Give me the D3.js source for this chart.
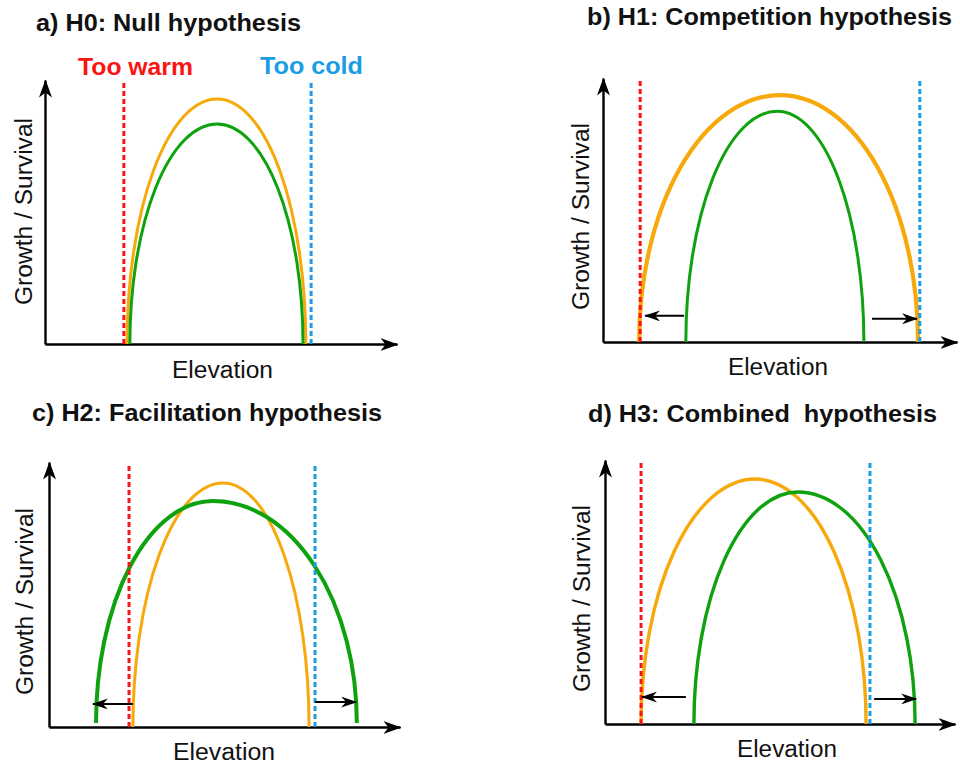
<!DOCTYPE html>
<html>
<head>
<meta charset="utf-8">
<script src="https://cdn.jsdelivr.net/npm/d3@7/dist/d3.min.js"></script>
<style>
  html, body { margin: 0; padding: 0; background: #fff; }
  svg { display: block; }
  text { font-family: "Liberation Sans", Arial, sans-serif; white-space: pre; }
</style>
</head>
<body>
<svg id="chart" width="960" height="764"></svg>
<script>
// ---------------- DATA (elevation & growth in 0–100 units of each panel's axes) ----------------
const panelIds = ["a", "b", "c", "d"];
const panelTitles = [
  "a) H0: Null hypothesis",
  "b) H1: Competition hypothesis",
  "c) H2: Facilitation hypothesis",
  "d) H3: Combined  hypothesis"
];
const xAxisLabel = "Elevation";
const yAxisLabel = "Growth / Survival";
const limitLabels = ["Too warm", "Too cold"];

// warm (low elevation) and cold (high elevation) limits per panel
const warmLimit = [22.4, 10.5, 22.8, 10.3];
const coldLimit = [75.6, 89.5, 75.8, 75.7];
const limitTop = [98.9, 99.0, 98.9, 99.2];

// orange curve: start, peak position, end, peak height
const orangeStart = [23.3, 10.2, 23.9, 10.3];
const orangePeakX = [48.9, 50.0, 49.6, 42.9];
const orangeEnd = [74.1, 89.0, 74.1, 74.6];
const orangePeakY = [92.8, 93.5, 92.1, 92.8];

// green curve: start, peak position, end, peak height, base
const greenStart = [24.1, 23.4, 13.4, 25.4];
const greenPeakX = [48.9, 49.2, 46.7, 55.1];
const greenEnd = [73.3, 73.7, 87.7, 88.6];
const greenPeakY = [83.3, 87.4, 85.3, 87.9];
const greenBase = [0, 0, 1.5, 0];

// shift arrows: from, to, height  (null = no arrows)
const leftArrowFrom = [null, 22.9, 23.9, 23.1];
const leftArrowTo = [null, 11.9, 12.5, 10.6];
const leftArrowY = [null, 9.9, 8.7, 10.2];
const rightArrowFrom = [null, 76.0, 75.8, 76.9];
const rightArrowTo = [null, 88.7, 87.5, 88.9];
const rightArrowY = [null, 8.8, 9.4, 9.5];

// ---------------- LAYOUT ----------------
const layout = {
  a: { ox: 45, oy: 344, tipX: 397, tipY: 80, title: [36, 31, 265], elev: [172, 378, 101], ylab: [32, 305, 187], ow: 3, gw: 3 },
  b: { ox: 603, oy: 342, tipX: 957, tipY: 78, title: [587, 25, 365], elev: [728, 375, 100], ylab: [589, 310, 187], ow: 4.2, gw: 3 },
  c: { ox: 49, oy: 727, tipX: 400, tipY: 462, title: [32, 421, 350], elev: [173, 760, 102], ylab: [33, 695, 187], ow: 3, gw: 4 },
  d: { ox: 605, oy: 724, tipX: 955, tipY: 460, title: [588, 422, 349], elev: [737, 757, 100], ylab: [590, 692, 187], ow: 3.4, gw: 3.4 }
};
const colors = { orange: "#f7a90c", green: "#0ea20e", red: "#fb1414", blue: "#1a9ce6", black: "#000" };
const fontTitle = 23, fontLabel = 23;

const svg = d3.select("#chart");
const defs = svg.append("defs");
defs.append("marker").attr("id", "axisHead")
  .attr("viewBox", "0 -6.5 18 13").attr("refX", 17).attr("refY", 0)
  .attr("markerWidth", 18).attr("markerHeight", 13)
  .attr("markerUnits", "userSpaceOnUse").attr("orient", "auto")
  .append("path").attr("d", "M0,-6.5L18,0L0,6.5L5,0Z").attr("fill", colors.black);
defs.append("marker").attr("id", "smallHead")
  .attr("viewBox", "0 -5.5 16 11").attr("refX", 15).attr("refY", 0)
  .attr("markerWidth", 16).attr("markerHeight", 11)
  .attr("markerUnits", "userSpaceOnUse").attr("orient", "auto")
  .append("path").attr("d", "M0,-5.5L16,0L0,5.5L5,0Z").attr("fill", colors.black);

// half-ellipse arcs through start -> peak -> end
function hump(x, y, s, px, e, py, base) {
  const x0 = x(s), xp = x(px), x1 = x(e), y0 = y(base), yp = y(py);
  const ry = y0 - yp;
  return `M${x0},${y0}A${xp - x0},${ry} 0 0 1 ${xp},${yp}A${x1 - xp},${ry} 0 0 1 ${x1},${y0}`;
}

panelIds.forEach((id, i) => {
  const L = layout[id];
  const x = d3.scaleLinear().domain([0, 100]).range([L.ox, L.tipX]);
  const y = d3.scaleLinear().domain([0, 100]).range([L.oy, L.tipY]);
  const g = svg.append("g").attr("class", "panel-" + id);

  // axes (no ticks), with arrow heads
  const xa = g.append("g").attr("transform", `translate(0,${L.oy})`)
    .call(d3.axisBottom(x).tickValues([]).tickSizeOuter(0));
  xa.select(".domain").attr("stroke-width", 2.4).attr("marker-end", "url(#axisHead)");
  const ya = g.append("g").attr("transform", `translate(${L.ox},0)`)
    .call(d3.axisLeft(y).tickValues([]).tickSizeOuter(0));
  ya.select(".domain").attr("stroke-width", 2.4).attr("marker-end", "url(#axisHead)");

  // curves
  g.append("path")
    .attr("d", hump(x, y, orangeStart[i], orangePeakX[i], orangeEnd[i], orangePeakY[i], 0))
    .attr("fill", "none").attr("stroke", colors.orange).attr("stroke-width", L.ow);
  g.append("path")
    .attr("d", hump(x, y, greenStart[i], greenPeakX[i], greenEnd[i], greenPeakY[i], greenBase[i]))
    .attr("fill", "none").attr("stroke", colors.green).attr("stroke-width", L.gw);

  // dashed limits
  [[warmLimit[i], colors.red], [coldLimit[i], colors.blue]].forEach(([v, c]) => {
    g.append("line")
      .attr("x1", x(v)).attr("x2", x(v)).attr("y1", y(0)).attr("y2", y(limitTop[i]))
      .attr("stroke", c).attr("stroke-width", 3).attr("stroke-dasharray", "5,3");
  });

  // shift arrows
  if (leftArrowFrom[i] !== null) {
    g.append("line")
      .attr("x1", x(leftArrowFrom[i])).attr("x2", x(leftArrowTo[i]))
      .attr("y1", y(leftArrowY[i])).attr("y2", y(leftArrowY[i]))
      .attr("stroke", colors.black).attr("stroke-width", 2).attr("marker-end", "url(#smallHead)");
    g.append("line")
      .attr("x1", x(rightArrowFrom[i])).attr("x2", x(rightArrowTo[i]))
      .attr("y1", y(rightArrowY[i])).attr("y2", y(rightArrowY[i]))
      .attr("stroke", colors.black).attr("stroke-width", 2).attr("marker-end", "url(#smallHead)");
  }

  // texts
  g.append("text").attr("x", L.title[0]).attr("y", L.title[1])
    .attr("textLength", L.title[2]).attr("lengthAdjust", "spacingAndGlyphs")
    .attr("font-size", fontTitle).attr("font-weight", "bold").attr("fill", "#111")
    .text(panelTitles[i]);
  g.append("text").attr("x", L.elev[0]).attr("y", L.elev[1])
    .attr("textLength", L.elev[2]).attr("lengthAdjust", "spacingAndGlyphs")
    .attr("font-size", fontLabel).attr("fill", "#111")
    .text(xAxisLabel);
  g.append("text").attr("transform", `translate(${L.ylab[0]},${L.ylab[1]}) rotate(-90)`)
    .attr("textLength", L.ylab[2]).attr("lengthAdjust", "spacingAndGlyphs")
    .attr("font-size", fontLabel).attr("fill", "#111")
    .text(yAxisLabel);

  if (id === "a") {
    g.append("text").attr("x", 78).attr("y", 75)
      .attr("textLength", 115).attr("lengthAdjust", "spacingAndGlyphs")
      .attr("font-size", fontTitle).attr("font-weight", "bold").attr("fill", colors.red)
      .text(limitLabels[0]);
    g.append("text").attr("x", 260).attr("y", 74)
      .attr("textLength", 103).attr("lengthAdjust", "spacingAndGlyphs")
      .attr("font-size", fontTitle).attr("font-weight", "bold").attr("fill", colors.blue)
      .text(limitLabels[1]);
  }
});
</script>
</body>
</html>
